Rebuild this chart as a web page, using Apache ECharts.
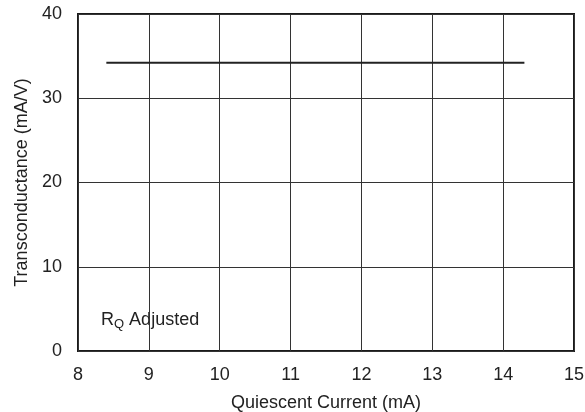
<!DOCTYPE html>
<html>
<head>
<meta charset="utf-8">
<script src="https://cdn.jsdelivr.net/npm/echarts@6/dist/echarts.min.js"></script>
<style>html,body{margin:0;padding:0;background:#fff;}#c{width:585px;height:412px;}</style>
</head>
<body>
<div id="c"></div>
<script>
var xValues = [8.4, 14.3];
var yValues = [34.2, 34.2];
var xTicks = [8, 9, 10, 11, 12, 13, 14, 15];
var yTicks = [0, 10, 20, 30, 40];
var xTitle = 'Quiescent Current (mA)';
var yTitle = 'Transconductance (mA/V)';

var chart = echarts.init(document.getElementById('c'));
var font = 'Liberation Sans, Arial, sans-serif';
chart.setOption({
  animation: false,
  backgroundColor: '#fff',
  grid: {left: 78, right: 11, top: 14, bottom: 61, show: true, borderColor: '#1a1a1a', borderWidth: 2,
         containLabel: false, outerBoundsMode: 'none'},
  xAxis: {
    type: 'value', min: 8, max: 15, interval: 1,
    name: xTitle, nameLocation: 'middle', nameGap: 43,
    nameTextStyle: {fontFamily: font, fontSize: 18, color: '#222'},
    axisLine: {show: false}, axisTick: {show: false},
    axisLabel: {fontFamily: font, fontSize: 18, color: '#222', margin: 15},
    splitLine: {show: true, lineStyle: {color: '#333', width: 1}}
  },
  yAxis: {
    type: 'value', min: 0, max: 40, interval: 10,
    name: yTitle, nameLocation: 'middle', nameGap: 42,
    nameTextStyle: {fontFamily: font, fontSize: 18, color: '#222'},
    axisLine: {show: false}, axisTick: {show: false},
    axisLabel: {fontFamily: font, fontSize: 18, color: '#222', margin: 16},
    splitLine: {show: true, lineStyle: {color: '#333', width: 1}}
  },
  graphic: [{
    type: 'text', left: 101, top: 311,
    style: {
      text: '{a|R}{s|Q}{a| Adjusted}',
      rich: {
        a: {fontFamily: font, fontSize: 18, fill: '#222'},
        s: {fontFamily: font, fontSize: 13, fill: '#222', verticalAlign: 'bottom', padding: [9, 0, 0, 0]}
      }
    }
  }],
  series: [{
    type: 'line', data: xValues.map(function (x, i) { return [x, yValues[i]]; }),
    symbol: 'none', lineStyle: {color: '#222', width: 2}
  }]
});
</script>
</body>
</html>
